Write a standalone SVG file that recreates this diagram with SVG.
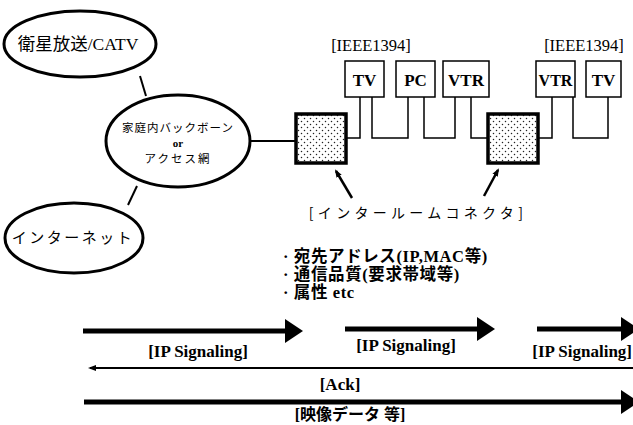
<svg xmlns="http://www.w3.org/2000/svg" width="633" height="425" viewBox="0 0 633 425">
<defs>
<pattern id="dots" width="6" height="6" patternUnits="userSpaceOnUse">
<rect width="6" height="6" fill="#fff"/>
<circle cx="1.5" cy="1.5" r="0.75" fill="#222"/>
<circle cx="4.5" cy="4.5" r="0.75" fill="#222"/>
</pattern>
<marker id="ahBig" markerWidth="6" markerHeight="6" refX="1" refY="3" orient="auto" markerUnits="strokeWidth">
<path d="M0,0.6 L3.6,3 L0,5.4 Z" fill="#000"/>
</marker>
<marker id="ahSmall" markerWidth="10" markerHeight="8" refX="6" refY="4" orient="auto" markerUnits="userSpaceOnUse">
<path d="M0,1 L8,4 L0,7 Z" fill="#000"/>
</marker>
</defs>
<style>
.ell{fill:#fff;stroke:#000;stroke-width:3}
.dev{fill:#fff;stroke:#000;stroke-width:1.5}
.conn{fill:url(#dots);stroke:#000;stroke-width:3.5}
.wire{fill:none;stroke:#000;stroke-width:1.5}
.thick{fill:none;stroke:#000;stroke-width:5}
.t{font-family:"Liberation Serif","Noto Sans CJK JP",serif;fill:#000}
.j{font-family:"Noto Sans CJK JP",sans-serif;fill:#000}
.lbl{font-family:"Liberation Serif",serif;font-weight:bold;font-size:17px;text-anchor:middle;fill:#000}
</style>
<rect width="633" height="425" fill="#fff"/>
<g id="connectors">
<line class="wire" x1="140" y1="76" x2="146" y2="96" style="stroke-width:2"/>
<line class="wire" x1="137" y1="186" x2="128" y2="205" style="stroke-width:2"/>
<line class="wire" x1="250" y1="141" x2="296" y2="141" style="stroke-width:2"/>
<polyline class="wire" points="346,138 360,138 360,97"/>
<polyline class="wire" points="372,97 372,138 408,138 408,97"/>
<polyline class="wire" points="424,97 424,138 455,138 455,97"/>
<polyline class="wire" points="471,97 471,138 488,138"/>
<polyline class="wire" points="538,138 552,138 552,97"/>
<polyline class="wire" points="573,97 573,138 608,138 608,97"/>
<line x1="352" y1="198" x2="336" y2="171" stroke="#000" stroke-width="2.5" marker-end="url(#ahSmall)"/>
<line x1="484" y1="196" x2="498" y2="170" stroke="#000" stroke-width="2.5" marker-end="url(#ahSmall)"/>
</g>
<g id="sat">
<ellipse class="ell" cx="80" cy="44" rx="76" ry="33"/>
<text class="t" x="78" y="50" font-size="17.5" text-anchor="middle">衛星放送/CATV</text>
</g>
<g id="backbone">
<ellipse class="ell" cx="178" cy="141" rx="72" ry="46"/>
<text class="j" x="178" y="132" font-size="11.5" text-anchor="middle" letter-spacing="1">家庭内バックボーン</text>
<text class="t" x="178" y="147" font-size="11" text-anchor="middle" font-weight="bold">or</text>
<text class="j" x="178" y="163" font-size="11.5" text-anchor="middle" letter-spacing="2">アクセス網</text>
</g>
<g id="internet">
<ellipse class="ell" cx="74" cy="238" rx="69" ry="35"/>
<text class="j" x="73" y="243" font-size="15" text-anchor="middle" letter-spacing="2.5">インターネット</text>
</g>
<g id="ic1">
<rect class="conn" x="296" y="114" width="50" height="49"/>
</g>
<g id="ic2">
<rect class="conn" x="488" y="114" width="50" height="49"/>
</g>
<g id="tv1">
<rect class="dev" x="345" y="61" width="39" height="36"/>
<text class="t" x="364.5" y="86" font-size="17" font-weight="bold" text-anchor="middle">TV</text>
</g>
<g id="pc">
<rect class="dev" x="396" y="61" width="39" height="36"/>
<text class="t" x="415.5" y="86" font-size="17" font-weight="bold" text-anchor="middle">PC</text>
</g>
<g id="vtr1">
<rect class="dev" x="443" y="61" width="46" height="36"/>
<text class="t" x="466" y="86" font-size="17" font-weight="bold" text-anchor="middle">VTR</text>
</g>
<g id="vtr2">
<rect class="dev" x="536" y="61" width="39" height="36"/>
<text class="t" x="555.5" y="86" font-size="16" font-weight="bold" text-anchor="middle">VTR</text>
</g>
<g id="tv2">
<rect class="dev" x="586" y="61" width="35" height="36"/>
<text class="t" x="603.5" y="86" font-size="17" font-weight="bold" text-anchor="middle">TV</text>
</g>
<text class="t" x="371" y="51" font-size="16.5" text-anchor="middle">[IEEE1394]</text>
<text class="t" x="584" y="51" font-size="16.5" text-anchor="middle">[IEEE1394]</text>
<text class="j" x="418" y="218" font-size="14" text-anchor="middle" letter-spacing="4.3">[インタールームコネクタ]</text>
<g id="info" class="t" font-size="16.5" font-weight="bold">
<text x="283" y="262" letter-spacing="0.6">· 宛先アドレス(IP,MAC等)</text>
<text x="283" y="280" letter-spacing="0.6">· 通信品質(要求帯域等)</text>
<text x="283" y="298" letter-spacing="0.6">· 属性  etc</text>
</g>
<g id="flows">
<line class="thick" x1="83" y1="331" x2="290" y2="331" marker-end="url(#ahBig)"/>
<line class="thick" x1="345" y1="329" x2="482" y2="329" marker-end="url(#ahBig)"/>
<line class="thick" x1="537" y1="329" x2="626" y2="329" marker-end="url(#ahBig)"/>
<text class="lbl" x="198" y="357">[IP Signaling]</text>
<text class="lbl" x="406" y="351">[IP Signaling]</text>
<text class="lbl" x="632" y="357" style="text-anchor:end">[IP Signaling]</text>
<line x1="633" y1="368" x2="90" y2="368" stroke="#000" stroke-width="2" marker-end="url(#ahSmall)"/>
<text class="lbl" x="340" y="390">[Ack]</text>
<line class="thick" x1="84" y1="402" x2="626" y2="402" marker-end="url(#ahBig)"/>
<text class="t" x="350" y="420" font-size="16" font-weight="bold" text-anchor="middle">[映像データ 等]</text>
</g>
</svg>
